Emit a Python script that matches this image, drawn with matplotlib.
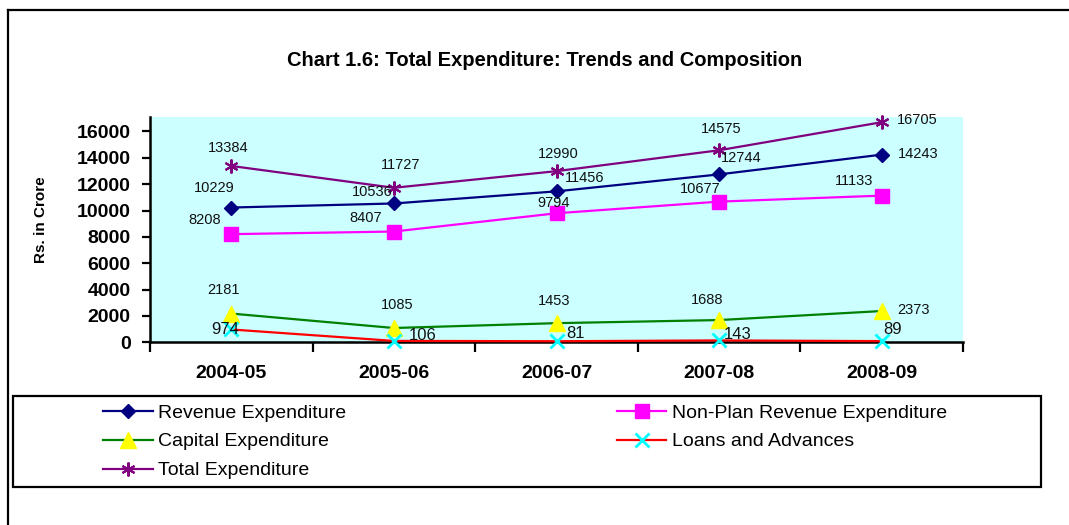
import numpy as np
import matplotlib.pyplot as plt
from matplotlib.lines import Line2D
from matplotlib.patches import Rectangle

plt.rcParams['font.family'] = ['Liberation Sans', 'DejaVu Sans']

years = ["2004-05", "2005-06", "2006-07", "2007-08", "2008-09"]
revenue = [10229, 10536, 11456, 12744, 14243]
non_plan = [8208, 8407, 9794, 10677, 11133]
capital = [2181, 1085, 1453, 1688, 2373]
loans = [974, 106, 81, 143, 89]
total = [13384, 11727, 12990, 14575, 16705]

#label offsets in pixels (dx, dy)
off_rev = [(-17, 20), (-22, 11), (28, 13), (22, 16), (36, 1)]
off_np = [(-27, 14), (-28, 14), (-3, 10), (-19, 13), (-28, 15)]
off_cap = [(-8, 24), (3, 23), (-2, 22), (-12, 20), (32, 1)]
off_loan = [(-6, 0), (29, 5), (19, 8), (19, 6), (11, 12)]
off_tot = [(-3, 18), (7, 23), (2, 17), (2, 21), (36, 2)]

W, H = 1069, 525
fig = plt.figure(figsize=(W / 100, H / 100), dpi=100)
ax = fig.add_axes([150 / W, 1 - 342.3 / H, (963 - 150) / W, (342.3 - 117) / H])
ax.set_facecolor("#CCFFFF")

x = np.arange(len(years))
series = [
    ("Revenue Expenditure", revenue, dict(color="#000080", marker="D", ms=7, mfc="#000080", mec="#000080"), off_rev, 10.5),
    ("Non-Plan Revenue Expenditure", non_plan, dict(color="#FF00FF", marker="s", ms=10, mfc="#FF00FF", mec="#FF00FF"), off_np, 10.5),
    ("Capital Expenditure", capital, dict(color="#008000", marker="^", ms=11, mfc="#FFFF00", mec="#FFFF00"), off_cap, 10.5),
    ("Loans and Advances", loans, dict(color="#FF0000", marker="x", ms=9.5, mec="#00FFFF", mew=2), off_loan, 12),
    ("Total Expenditure", total, dict(color="#800080", marker=(6, 2, 0), ms=10, mec="#800080", mew=1.5), off_tot, 10.5),
]

handles = {}
for name, vals, style, offs, fs in series:
    ln, = ax.plot(x, vals, lw=1.6, label=name, clip_on=False, zorder=3, **style)
    handles[name] = ln
    for i, v in enumerate(vals):
        ax.annotate(str(v), (i, v), xytext=offs[i], textcoords="offset pixels",
                    ha="center", va="center", fontsize=fs, color="#111111", zorder=4)

ax.set_xlim(-0.5, len(years) - 0.5)
ax.set_ylim(0, 17100)
ax.set_yticks(np.arange(0, 16001, 2000))
ax.set_xticks(np.arange(-0.5, len(years), 1))
ax.set_xticklabels([])
ax.set_xticks(x, minor=True)
ax.set_xticklabels(years, minor=True, fontsize=14, fontweight="bold")
ax.tick_params(axis="x", which="minor", length=0, pad=16)
ax.tick_params(axis="x", which="major", direction="out", length=7, width=1.6)
ax.tick_params(axis="y", direction="out", length=6, width=1.6, pad=8, labelsize=14)
for lbl in ax.get_yticklabels():
    lbl.set_fontweight("bold")
for s in ["top", "right"]:
    ax.spines[s].set_visible(False)
for s in ["left", "bottom"]:
    ax.spines[s].set_linewidth(1.8)

fig.text(545 / W, 1 - 60 / H, "Chart 1.6: Total Expenditure: Trends and Composition",
         ha="center", va="center", fontsize=14.5, fontweight="bold")
fig.text(41 / W, 1 - 220 / H, "Rs. in Crore", rotation=90, ha="center", va="center",
         fontsize=11, fontweight="bold")

#outer frame
fig.add_artist(Line2D([8 / W, 1], [1 - 9.5 / H, 1 - 9.5 / H], color="black", lw=1.6, transform=fig.transFigure))
fig.add_artist(Line2D([8 / W, 8 / W], [0, 1 - 9.5 / H], color="black", lw=1.6, transform=fig.transFigure))

#legend box
fig.add_artist(Rectangle((13 / W, 1 - 487 / H), (1041 - 13) / W, (487 - 396) / H, fill=False,
                         ec="black", lw=1.6, transform=fig.transFigure))
order = ["Revenue Expenditure", "Capital Expenditure", "Total Expenditure",
         "Non-Plan Revenue Expenditure", "Loans and Advances"]
fig.legend([handles[n] for n in order], order, ncol=2, loc="upper left",
           bbox_to_anchor=(103 / W, 1 - 404 / H), bbox_transform=fig.transFigure,
           frameon=False, fontsize=14, handlelength=2.55, handletextpad=0.3,
           columnspacing=13.9, labelspacing=0.58, borderpad=0, borderaxespad=0)

fig.savefig("out.png", dpi=100)
